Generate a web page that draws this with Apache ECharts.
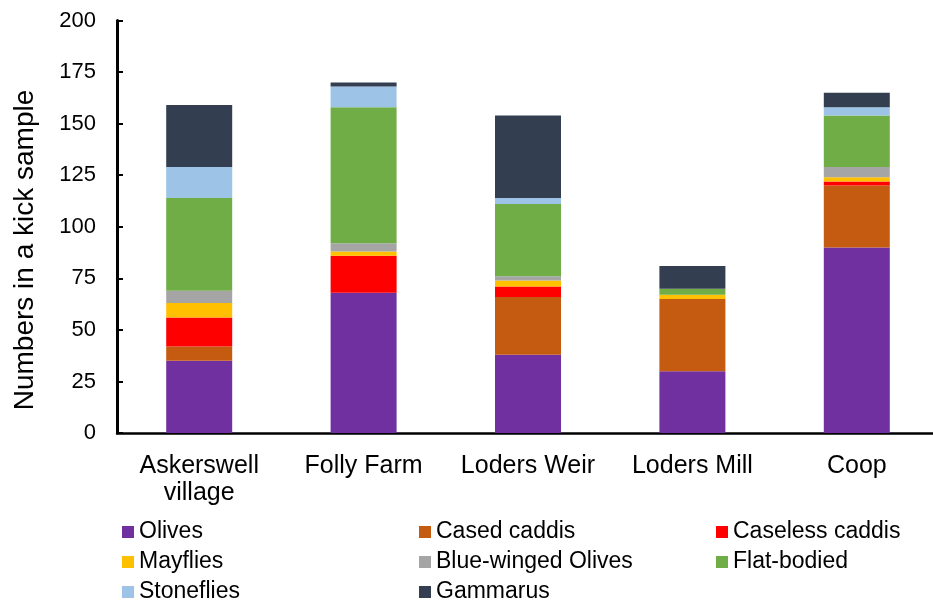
<!DOCTYPE html>
<html>
<head>
<meta charset="utf-8">
<script src="https://cdn.jsdelivr.net/npm/echarts@6/dist/echarts.min.js"></script>
<style>
  html, body { margin: 0; padding: 0; background: #fff; overflow: hidden; }
  /* the x axis runs a few pixels past the right edge of the page */
  #chart { width: 940px; height: 600px; }
</style>
</head>
<body>
<div id="chart"></div>
<script>
// Sampling sites along the river
const sites = ['Askerswell\nvillage', 'Folly Farm', 'Loders Weir', 'Loders Mill', 'Coop'];

// Counts per kick sample for each invertebrate group, one value per site
const olives           = [35, 68, 38, 30, 90];
const casedCaddis      = [7, 0, 28, 35, 30];
const caselessCaddis   = [14, 18, 5, 0, 2];
const mayflies         = [7, 2, 3, 2, 2];
const blueWingedOlives = [6, 4, 2, 0, 5];
const flatBodied       = [45, 66, 35, 3, 25];
const stoneflies       = [15, 10, 3, 0, 4];
const gammarus         = [30, 2, 40, 11, 7];

const yTicks = { min: 0, max: 200, step: 25 };
const yTitle = 'Numbers in a kick sample';

const groups = [
  { name: 'Olives', data: olives, color: '#7030A0' },
  { name: 'Cased caddis', data: casedCaddis, color: '#C55A11' },
  { name: 'Caseless caddis', data: caselessCaddis, color: '#FF0000' },
  { name: 'Mayflies', data: mayflies, color: '#FFC000' },
  { name: 'Blue-winged Olives', data: blueWingedOlives, color: '#A5A5A5' },
  { name: 'Flat-bodied', data: flatBodied, color: '#70AD47' },
  { name: 'Stoneflies', data: stoneflies, color: '#9DC3E6' },
  { name: 'Gammarus', data: gammarus, color: '#333F50' }
];

const FONT = 'Liberation Sans, Arial, sans-serif';

// One vertical legend per column so the three columns line up
function legendColumn(left, names) {
  return {
    orient: 'vertical',
    left: left,
    top: 517,
    height: 100,
    padding: 0,
    itemGap: 0,
    itemWidth: 12,
    itemHeight: 12,
    icon: 'rect',
    selectedMode: false,
    data: names,
    textStyle: { fontFamily: FONT, fontSize: 23, color: '#000', lineHeight: 30 }
  };
}

const chart = echarts.init(document.getElementById('chart'), null, { renderer: 'canvas' });
chart.setOption({
  animation: false,
  backgroundColor: '#fff',
  grid: { left: 117, width: 822, top: 20.5, height: 412.5, containLabel: false },
  legend: [
    legendColumn(122, ['Olives', 'Mayflies', 'Stoneflies']),
    legendColumn(419, ['Cased caddis', 'Blue-winged Olives', 'Gammarus']),
    legendColumn(716, ['Caseless caddis', 'Flat-bodied'])
  ],
  graphic: [{
    type: 'text',
    x: 25,
    y: 250,
    rotation: Math.PI / 2,
    style: {
      text: yTitle,
      fontFamily: FONT,
      fontSize: 28,
      fill: '#000',
      align: 'center',
      verticalAlign: 'middle'
    }
  }],
  xAxis: {
    type: 'category',
    data: sites,
    boundaryGap: true,
    axisLine: { lineStyle: { color: '#000', width: 2.5 } },
    axisTick: { inside: true, length: 5, alignWithLabel: false, lineStyle: { color: '#000', width: 2 } },
    axisLabel: { fontFamily: FONT, fontSize: 25, color: '#000', margin: 20, lineHeight: 27, interval: 0 }
  },
  yAxis: {
    type: 'value',
    min: yTicks.min,
    max: yTicks.max,
    interval: yTicks.step,
    splitLine: { show: false },
    axisLine: { show: true, lineStyle: { color: '#000', width: 3 } },
    axisTick: { show: true, inside: true, length: 6, lineStyle: { color: '#000', width: 2 } },
    axisLabel: { fontFamily: FONT, fontSize: 22, color: '#000', margin: 21 }
  },
  series: groups.map(g => ({
    name: g.name,
    type: 'bar',
    stack: 'total',
    barWidth: 66,
    data: g.data,
    itemStyle: { color: g.color }
  }))
});
</script>
</body>
</html>
